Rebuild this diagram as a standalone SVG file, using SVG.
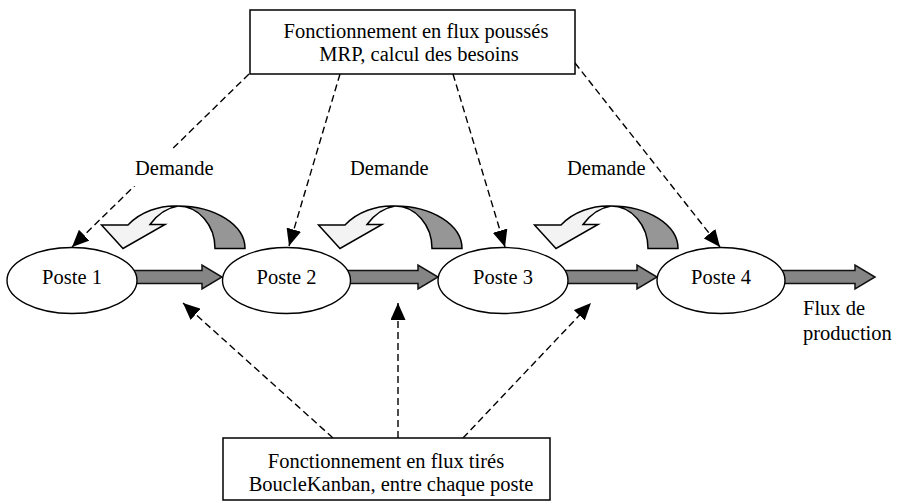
<svg xmlns="http://www.w3.org/2000/svg" xmlns:xlink="http://www.w3.org/1999/xlink" width="898" height="502" viewBox="0 0 898 502">
<style>
text{font-family:"Liberation Serif","Times New Roman",serif;font-size:20.5px;fill:#000}
.box{fill:#fff;stroke:#000;stroke-width:1.5}
.node{fill:#fff;stroke:#000;stroke-width:1.4}
.dash{fill:none;stroke:#000;stroke-width:1.4;stroke-dasharray:7 4;marker-end:url(#ah)}
.flow{fill:#858585;stroke:#111;stroke-width:1.5;stroke-linejoin:miter}
.cdark{fill:#969696;stroke:#000;stroke-width:1.5}
.clight{fill:#f3f3f3;stroke:#000;stroke-width:1.5;stroke-linejoin:miter}
</style>
<defs>
<marker id="ah" viewBox="0 0 17 15" refX="17" refY="7.5" markerWidth="17" markerHeight="15" orient="auto" markerUnits="userSpaceOnUse">
<path d="M0,0 L17,7.5 L0,15 Z" fill="#000"/>
</marker>
<g id="uturn">
<path class="cdark" d="M215,248.5 A37,42.5 0 0 0 178,206 A67,42.5 0 0 1 245,248.5 Z"/>
<path class="clight" d="M178,206 C160,205 140,212 128,225 L101.5,225 L123,248.5 L165,224.5 L150,224.5 C157,215 166,208 178,206 Z"/>
</g>
</defs>
<rect width="898" height="502" fill="#fff"/>

<g id="connectors">
<path class="dash" d="M249,74 L72,247"/>
<path class="dash" d="M340,74 L289,246"/>
<path class="dash" d="M453,74 L505,247"/>
<path class="dash" d="M575,63 L720,247"/>
<path class="dash" d="M333,438 L183,303"/>
<path class="dash" d="M398,438 L398,303"/>
<path class="dash" d="M463,438 L591,303"/>
<path class="flow" d="M134,270.5 L202,270.5 L202,265 L222,277 L202,289 L202,283.5 L134,283.5 Z"/>
<path class="flow" d="M347,270.5 L418,270.5 L418,265 L438,277 L418,289 L418,283.5 L347,283.5 Z"/>
<path class="flow" d="M565,270.5 L637,270.5 L637,265 L657,277 L637,289 L637,283.5 L565,283.5 Z"/>
<path class="flow" d="M782,270.5 L855,270.5 L855,265 L875,277 L855,289 L855,283.5 L782,283.5 Z"/>
</g>

<g id="loops">
<use xlink:href="#uturn"/>
<use xlink:href="#uturn" transform="translate(217,0)"/>
<use xlink:href="#uturn" transform="translate(433,0)"/>
</g>

<g id="labels">
<rect x="128" y="150" width="90" height="36" fill="#fff"/>
<text x="135" y="175">Demande</text>
<text x="350" y="175">Demande</text>
<text x="567" y="175">Demande</text>
<text x="803" y="315">Flux de</text>
<text x="803" y="340">production</text>
</g>

<g id="push-box">
<rect class="box" x="250" y="10" width="325" height="64"/>
<text x="416" y="38" text-anchor="middle">Fonctionnement en flux poussés</text>
<text x="419" y="61" text-anchor="middle">MRP, calcul des besoins</text>
</g>

<g id="pull-box">
<rect class="box" x="223" y="438" width="327" height="62"/>
<text x="386" y="467.5" text-anchor="middle">Fonctionnement en flux tirés</text>
<text x="391" y="490.5" text-anchor="middle">BoucleKanban, entre chaque poste</text>
</g>

<g id="poste1">
<ellipse class="node" cx="72" cy="280.5" rx="65" ry="33"/>
<text x="72" y="284" text-anchor="middle">Poste 1</text>
</g>
<g id="poste2">
<ellipse class="node" cx="286.5" cy="280.5" rx="64" ry="33"/>
<text x="286.5" y="284" text-anchor="middle">Poste 2</text>
</g>
<g id="poste3">
<ellipse class="node" cx="503" cy="280.5" rx="65" ry="33"/>
<text x="503" y="284" text-anchor="middle">Poste 3</text>
</g>
<g id="poste4">
<ellipse class="node" cx="721" cy="280.5" rx="64" ry="33"/>
<text x="721" y="284" text-anchor="middle">Poste 4</text>
</g>
</svg>
